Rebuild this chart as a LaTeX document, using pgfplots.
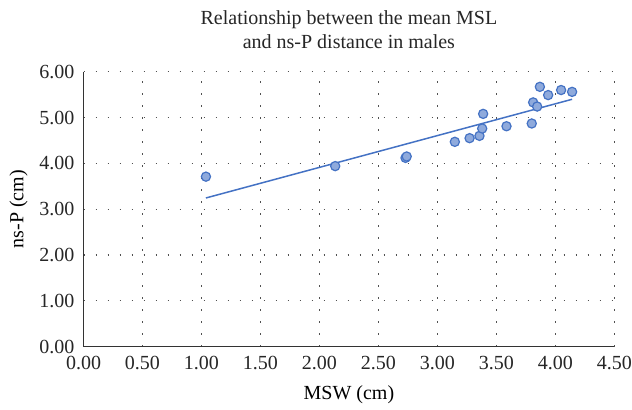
\documentclass[border=0pt]{standalone}
\usepackage{fontspec}
\setmainfont{Liberation Serif}
\usepackage{pgfplots}
\pgfplotsset{compat=1.18}

\definecolor{ptfill}{RGB}{143,170,220}
\definecolor{ptedge}{RGB}{68,114,196}
\definecolor{gridc}{RGB}{80,80,80}

\begin{document}
\begin{tikzpicture}\fontsize{10pt}{12pt}\selectfont
\begin{axis}[
  scale only axis,
  width=265.4pt, height=137.5pt,
  xmin=0, xmax=4.5, ymin=0, ymax=6,
  xtick={0,0.5,...,4.5},
  ytick={0,1,...,6},
  axis x line*=bottom,
  axis y line*=left,
  axis line style={black!80, line width=0.7pt, -},
  major tick length=0pt,
  grid=major,
  major grid style={gridc, line width=0.6pt, dash pattern=on 0.6pt off 5.4pt},
  /pgf/number format/assume math mode=true,
  /pgf/number format/.cd, fixed, fixed zerofill, precision=2, /pgfplots/.cd,
  ticklabel style={font=\fontsize{10pt}{12pt}\selectfont, text=black!85},
  xticklabel style={yshift=-1pt},
  yticklabel style={xshift=-1pt},
  xlabel={MSW (cm)},
  ylabel={ns-P (cm)},
  label style={font=\fontsize{10pt}{12pt}\selectfont, text=black!85},
  every axis x label/.style={at={(axis description cs:0.5,0)}, anchor=center, yshift=-24pt},
  every axis y label/.style={at={(axis description cs:0,0.5)}, anchor=center, rotate=90, xshift=0pt, yshift=32.5pt},
  title={Relationship between the mean MSL\\and ns-P distance in males},
  title style={align=center, font=\fontsize{10pt}{12pt}\selectfont, text=black!85, at={(0.5,1)}, anchor=south, yshift=2pt},
  clip=false,
]
\addplot[ptedge, line width=0.75pt] coordinates {(1.038,3.245) (4.142,5.398)};
\addplot[only marks, mark=*, mark size=2.3pt, mark options={fill=ptfill, draw=ptedge, line width=0.6pt}] coordinates {
(1.038,3.71)
(2.134,3.94)
(2.73,4.12)
(2.74,4.15)
(3.148,4.47)
(3.273,4.55)
(3.357,4.60)
(3.380,4.76)
(3.388,5.08)
(3.586,4.81)
(3.80,4.87)
(3.812,5.33)
(3.846,5.24)
(3.869,5.67)
(3.939,5.49)
(4.049,5.60)
(4.142,5.56)
};
\end{axis}
\pgfresetboundingbox
\path[use as bounding box] ([xshift=-41.75pt,yshift=-31.15pt]current axis.south west) rectangle ([xshift=8.85pt,yshift=35.85pt]current axis.north east);
\end{tikzpicture}
\end{document}
